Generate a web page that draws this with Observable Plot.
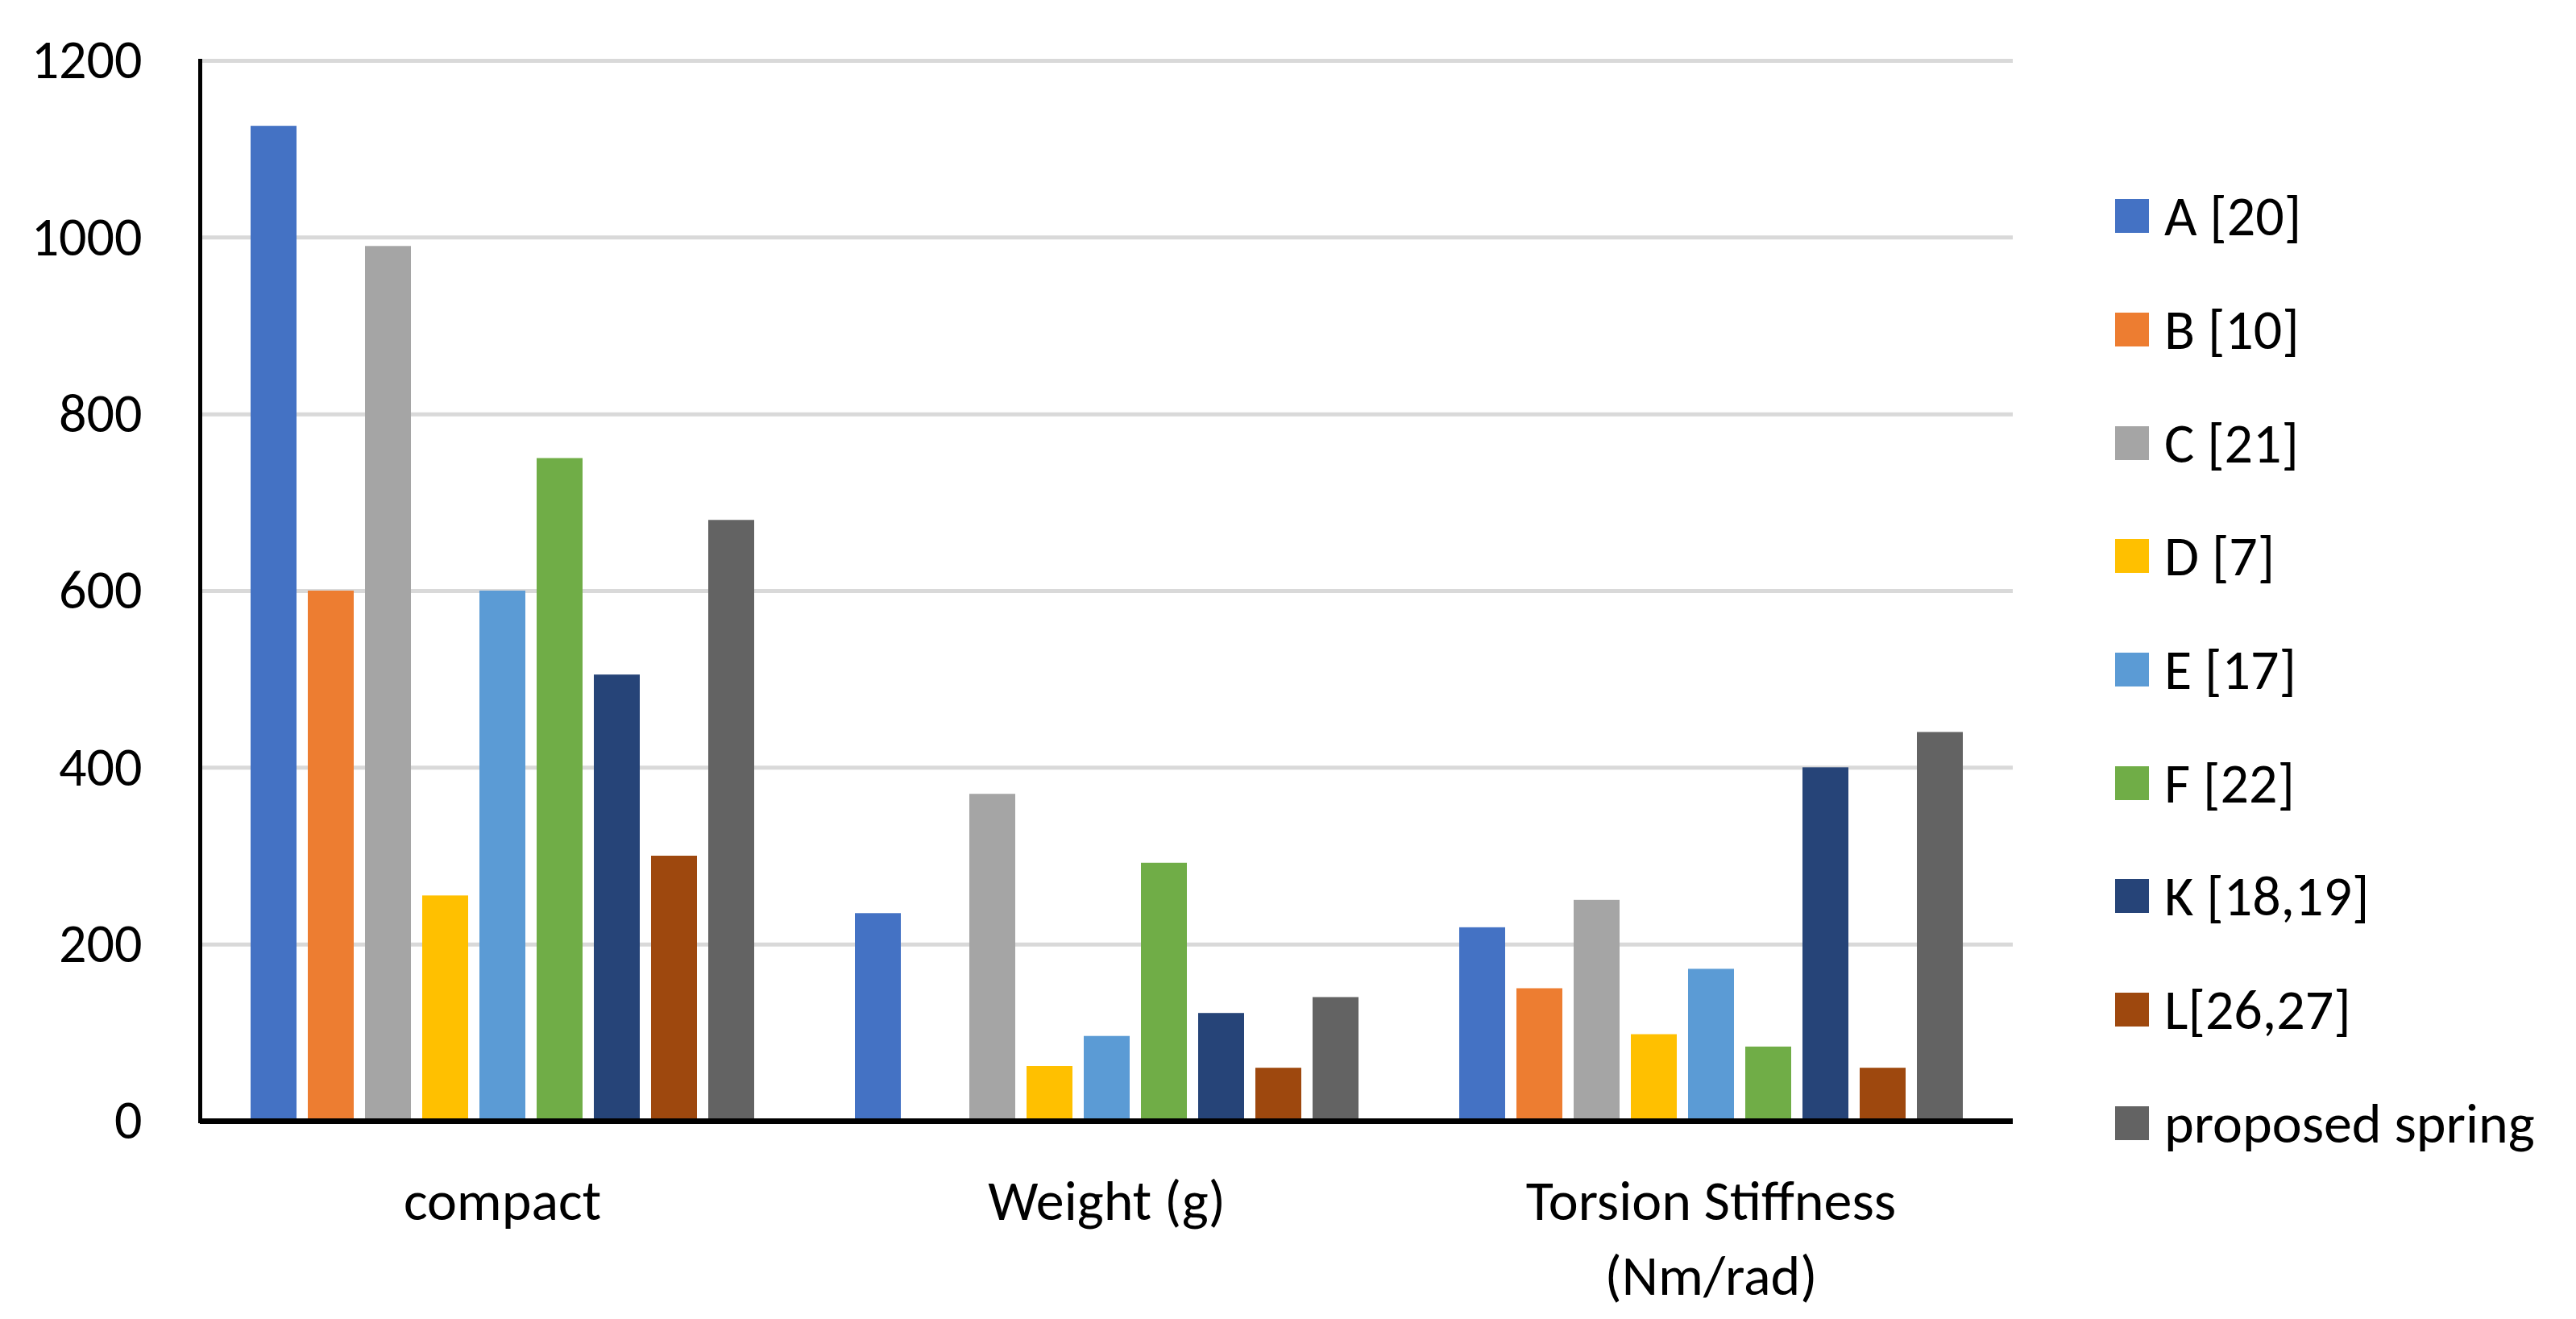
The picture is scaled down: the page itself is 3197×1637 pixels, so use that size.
<!DOCTYPE html>
<html>
<head>
<meta charset="utf-8">
<script src="https://cdn.jsdelivr.net/npm/d3@7"></script>
<script src="https://cdn.jsdelivr.net/npm/@observablehq/plot@0.6"></script>
<style>
  html, body { margin: 0; padding: 0; background: #fff; }
  #wrap { position: relative; width: 3197px; height: 1637px; overflow: hidden; }
  #chart { position: absolute; left: 0; top: 0; }
  #legend { position: absolute; left: 2625px; top: 198px; font-family: Carlito, Lato, sans-serif; font-size: 70px; color: #000; }
  .row { height: 140.7px; display: flex; align-items: center; white-space: nowrap; }
  .sw { width: 42px; height: 42px; margin-right: 19px; flex: none; }
</style>
</head>
<body>
<div id="wrap"><div id="chart"></div><div id="legend"></div></div>
<script>
const categories = ["compact", "Weight (g)", "Torsion Stiffness"];
const categoryLabels = ["compact", "Weight (g)", "Torsion Stiffness\n(Nm/rad)"];
const series = ["A [20]", "B [10]", "C [21]", "D [7]", "E [17]", "F [22]", "K [18,19]", "L[26,27]", "proposed spring"];
const compactValues = [1126, 600, 990, 255, 600, 750, 505, 300, 680];
const weightValues = [235, null, 370, 62, 96, 292, 122, 60, 140];
const torsionValues = [219, 150, 250, 98, 172, 84, 400, 60, 440];
const colors = ["#4472C4", "#ED7D31", "#A5A5A5", "#FFC000", "#5B9BD5", "#70AD47", "#264478", "#9E480E", "#636363"];
const yTicks = [0, 200, 400, 600, 800, 1000, 1200];

const valueSets = [compactValues, weightValues, torsionValues];
const data = [];
categories.forEach((c, ci) => {
  series.forEach((s, si) => {
    const v = valueSets[ci][si];
    if (v != null) data.push({category: c, series: s, value: v});
  });
});
const labelOf = new Map(categories.map((c, i) => [c, categoryLabels[i]]));

const chart = Plot.plot({
  width: 2540,
  height: 1637,
  marginLeft: 247,
  marginRight: 42,
  marginTop: 75,
  marginBottom: 246,
  style: {fontFamily: "Carlito, Lato, sans-serif", fontSize: "68px", color: "#000", background: "#fff"},
  fx: {domain: categories, paddingInner: 0, paddingOuter: 0},
  x: {domain: series, paddingInner: 0.2, paddingOuter: 0.866, axis: null},
  y: {domain: [0, 1200]},
  color: {domain: series, range: colors},
  marks: [
    Plot.gridY(yTicks, {stroke: "#d9d9d9", strokeOpacity: 1, strokeWidth: 5}),
    Plot.barY(data, {fx: "category", x: "series", y: "value", fill: "series"}),
    Plot.ruleY([0], {stroke: "#000", strokeWidth: 7}),
    Plot.frame({anchor: "left", facetAnchor: "left", stroke: "#000", strokeWidth: 5}),
    Plot.axisY(yTicks, {tickSize: 0, tickPadding: 72, label: null, fontSize: 68, tickFormat: d => String(d)}),
    Plot.axisFx({anchor: "bottom", tickSize: 0, tickPadding: 56, label: null, fontSize: 70, lineHeight: 1.33, tickFormat: d => labelOf.get(d)})
  ]
});
document.getElementById("chart").appendChild(chart);

const legend = document.getElementById("legend");
series.forEach((s, i) => {
  const row = document.createElement("div");
  row.className = "row";
  const sw = document.createElement("div");
  sw.className = "sw";
  sw.style.background = colors[i];
  const t = document.createElement("span");
  t.textContent = s;
  row.appendChild(sw);
  row.appendChild(t);
  legend.appendChild(row);
});
</script>
</body>
</html>
